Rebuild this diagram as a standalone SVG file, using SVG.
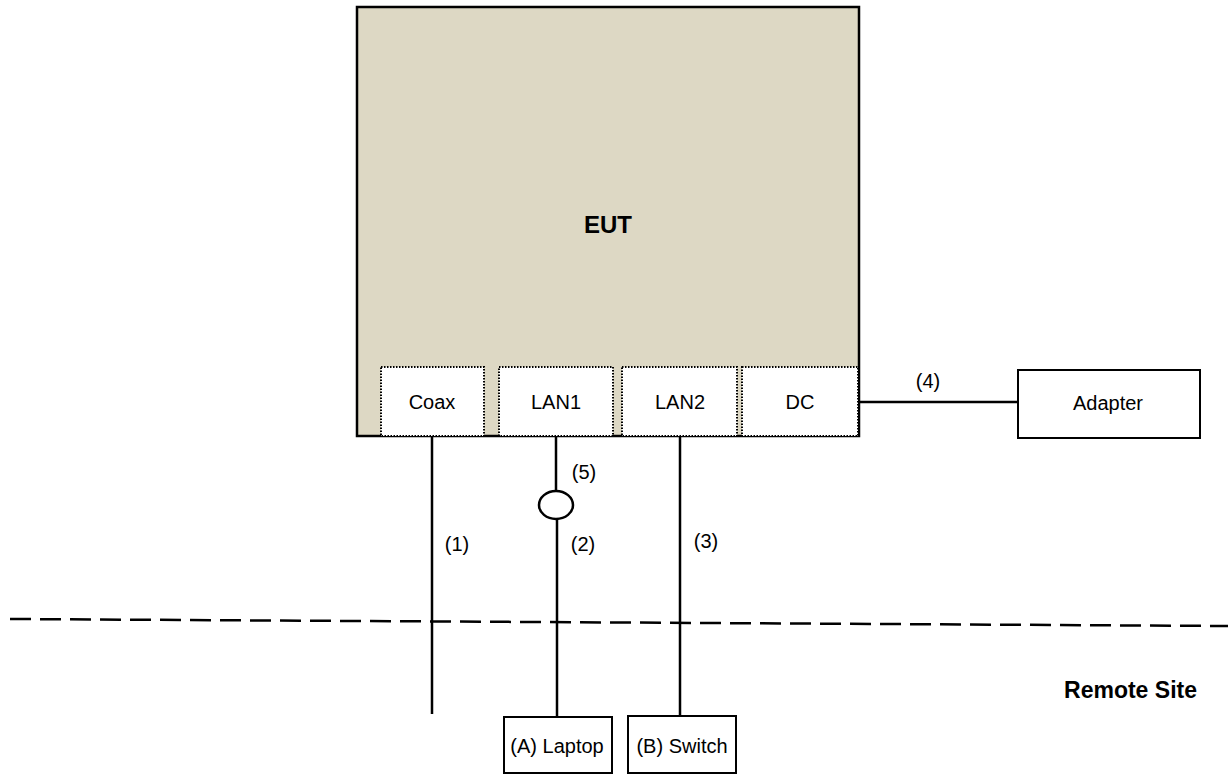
<svg xmlns="http://www.w3.org/2000/svg" width="1228" height="776" viewBox="0 0 1228 776">
<style>
text{font-family:"Liberation Sans",Arial,sans-serif;fill:#000}
.t{font-size:20px;text-anchor:middle}
.b{font-weight:bold}
.port{fill:#fff;stroke:#000;stroke-width:2;stroke-dasharray:1.5 1.5}
.box{fill:#fff;stroke:#000;stroke-width:2}
.w{stroke:#000;stroke-width:2.5;fill:none}
</style>
<rect width="1228" height="776" fill="#fff"/>
<g id="eut">
<rect x="357" y="7" width="502" height="429" fill="#ddd8c4" stroke="#000" stroke-width="2.5"/>
<text x="608" y="233" class="t b" style="font-size:24px">EUT</text>
</g>
<g id="coax"><rect class="port" x="381" y="367" width="103" height="69"/><text class="t" x="432" y="409">Coax</text></g>
<g id="lan1"><rect class="port" x="499" y="367" width="114" height="69"/><text class="t" x="556" y="409">LAN1</text></g>
<g id="lan2"><rect class="port" x="622" y="367" width="115" height="69"/><text class="t" x="680" y="409">LAN2</text></g>
<g id="dc"><rect class="port" x="742" y="367" width="116" height="69"/><text class="t" x="800" y="409">DC</text></g>
<g id="adapter"><rect class="box" x="1018" y="370" width="182" height="68"/><text class="t" x="1108" y="410">Adapter</text></g>
<g id="laptop"><rect class="box" x="504" y="717" width="108" height="56"/><text class="t" x="557" y="753">(A) Laptop</text></g>
<g id="switch"><rect class="box" x="628" y="716" width="108" height="57"/><text class="t" x="682" y="753">(B) Switch</text></g>
<g id="connectors">
<line class="w" x1="432" y1="436" x2="432" y2="714" stroke-width="3"/>
<line class="w" x1="556" y1="436" x2="556" y2="491" stroke-width="3"/>
<ellipse class="w" cx="556" cy="505" rx="17" ry="14"/>
<line class="w" x1="557" y1="519" x2="557" y2="717"/>
<line class="w" x1="680" y1="436" x2="680" y2="716" stroke-width="2.2"/>
<line class="w" x1="859" y1="402" x2="1018" y2="402"/>
<line x1="10" y1="619" x2="1228" y2="626" stroke="#000" stroke-width="2.5" stroke-dasharray="21 9"/>
</g>
<g id="labels">
<text class="t" x="457" y="551">(1)</text>
<text class="t" x="583" y="551">(2)</text>
<text class="t" x="706" y="548">(3)</text>
<text class="t" x="928" y="388">(4)</text>
<text class="t" x="584" y="479">(5)</text>
<text class="b" x="1197" y="698" text-anchor="end" style="font-size:23px">Remote Site</text>
</g>
</svg>
